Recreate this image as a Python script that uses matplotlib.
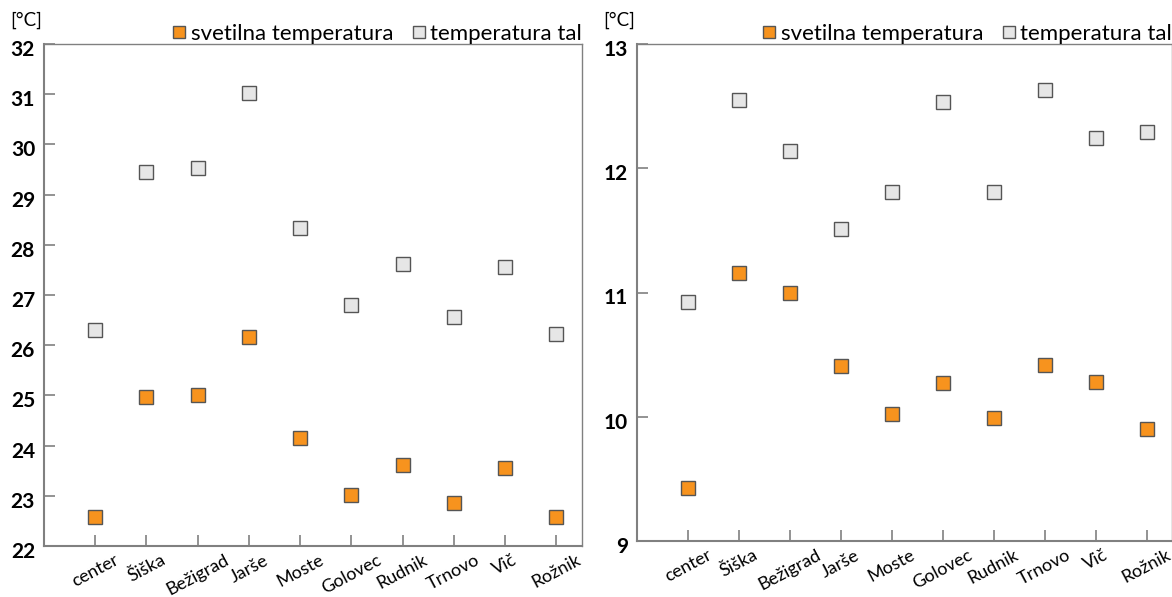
import matplotlib
matplotlib.use("Agg")
import matplotlib.pyplot as plt
import matplotlib.transforms as mtransforms
import numpy as np

plt.rcParams["font.family"] = ["Lato", "DejaVu Sans"]

districts = ["center", "Šiška", "Bežigrad", "Jarše", "Moste",
             "Golovec", "Rudnik", "Trnovo", "Vič", "Rožnik"]

# left panel: summer
light_summer = [22.57, 24.97, 25.00, 26.16, 24.15, 23.01, 23.62, 22.86, 23.56, 22.57]
ground_summer = [26.31, 29.46, 29.52, 31.03, 28.33, 26.80, 27.61, 26.57, 27.55, 26.22]
# right panel: winter
light_winter = [9.43, 11.16, 11.00, 10.41, 10.02, 10.27, 9.99, 10.42, 10.28, 9.90]
ground_winter = [10.92, 12.55, 12.14, 11.51, 11.81, 12.53, 11.81, 12.63, 12.24, 12.29]

ORANGE = "#f7931e"
GREY = "#e6e6e6"
EDGE = "#555555"
SPINE = "#808080"

W, H = 1172, 597
fig = plt.figure(figsize=(W / 100, H / 100), dpi=100)


def px_axes(x0, y0, x1, y1):
    return fig.add_axes([x0 / W, 1 - y1 / H, (x1 - x0) / W, (y1 - y0) / H])


def px_shift(dx, dy):
    return mtransforms.ScaledTranslation(dx / 100, dy / 100, fig.dpi_scale_trans)


def draw(ax, light, ground, ylim, yticks):
    x = np.arange(len(districts))
    kw = dict(marker="s", linestyle="none", markersize=10,
              markeredgecolor=EDGE, markeredgewidth=1.0)
    ax.plot(x, light, color=ORANGE, markerfacecolor=ORANGE,
            label="svetilna temperatura", **kw)
    ax.plot(x, ground, color=GREY, markerfacecolor=GREY,
            label="temperatura tal", **kw)
    ax.set_xlim(-1, 9.5)
    ax.set_ylim(*ylim)
    ax.set_yticks(yticks)
    ax.set_yticklabels([])
    ax.set_xticks(x)
    ax.set_xticklabels([])

    # numbers sit a little below their tick marks, as in the original
    ytrans = ax.get_yaxis_transform() + px_shift(-9, -6)
    for t in yticks:
        ax.text(0, t, str(t), transform=ytrans, ha="right", va="center",
                fontsize=15, fontweight="bold")
    xtrans = ax.get_xaxis_transform() + px_shift(0, -6)
    for xi, name in zip(x, districts):
        ax.text(xi, 0, name, transform=xtrans, rotation=28, ha="center",
                va="top", fontsize=13)

    ax.tick_params(axis="both", direction="in", length=8, width=1.2,
                   color=SPINE)
    for side, sp in ax.spines.items():
        sp.set_color(SPINE)
        sp.set_linewidth(1.5 if side in ("left", "bottom") else 1.0)
    ax.legend(loc="lower right", bbox_to_anchor=(1.0, 1.0), ncol=2,
              frameon=False, fontsize=16, handlelength=0.65,
              handletextpad=0.2, columnspacing=0.8, borderaxespad=0.0,
              borderpad=0.0, markerscale=0.85)


ax1 = px_axes(44, 44, 582, 546)
draw(ax1, light_summer, ground_summer, (22, 32), list(range(22, 33)))
fig.text(10 / W, 1 - 20 / H, "[°C]", fontsize=13.5, va="center", ha="left")

ax2 = px_axes(637, 44, 1172, 541)
draw(ax2, light_winter, ground_winter, (9, 13), [9, 10, 11, 12, 13])
fig.text(603 / W, 1 - 20 / H, "[°C]", fontsize=13.5, va="center", ha="left")

fig.savefig("out.png", dpi=100)
